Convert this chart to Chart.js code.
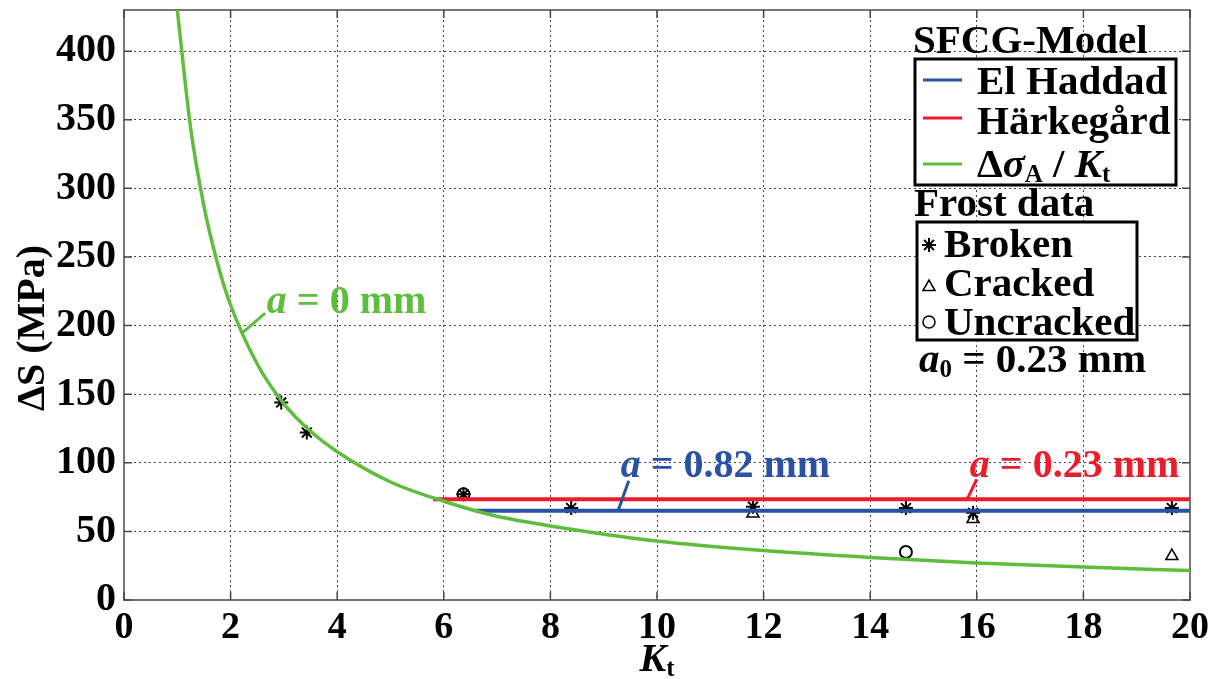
<!DOCTYPE html>
<html>
<head>
<meta charset="utf-8">
<script src="https://cdn.jsdelivr.net/npm/chart.js@4"></script>
<style>
  html, body { margin: 0; padding: 0; background: #fff; }
</style>
</head>
<body>
<canvas id="kt" width="1223" height="679"></canvas>
<script>
// values
const curveKt = [1, 1.25, 1.5, 1.75, 2, 2.5, 3, 3.5, 4, 5, 6, 7, 8, 10, 12, 14, 16, 18, 20];
const curveS = [430, 344, 287, 246, 215, 172, 143, 123, 108, 86, 72, 61, 54, 43, 36, 31, 27, 24, 21.5];
const haddadKt = [6.6, 20];
const haddadS = [65, 65];
const harkKt = [5.8, 20];
const harkS = [73.5, 73.5];
const brokenKt = [2.95, 3.43, 6.37, 8.39, 11.8, 14.67, 15.93, 19.66];
const brokenS = [144, 122, 77, 67, 68, 67, 63.5, 67];
const crackedKt = [11.8, 15.93, 19.66];
const crackedS = [63, 59, 32];
const uncrackedKt = [6.37, 14.67];
const uncrackedS = [77, 35];
const xTicks = [0, 2, 4, 6, 8, 10, 12, 14, 16, 18, 20];
const yTicks = [0, 50, 100, 150, 200, 250, 300, 350, 400];

const GREEN = '#5fbd3e';
const BLUE = '#2a51a3';
const RED = '#ee1c2b';
const SERIF = '"Liberation Serif", "Times New Roman", serif';

function pts(xs, ys) {
    return xs.map((x, i) => ({ x: x, y: ys[i] }));
}

// labels on the curves, placed in data units
const notes = [
    { text: [['a', 'i'], [' = 0 mm', '']], color: GREEN, from: [2.23, 195], to: [2.65, 209], at: [2.68, 209] },
    { text: [['a', 'i'], [' = 0.82 mm', '']], color: BLUE, from: [9.27, 65], to: [9.47, 87], at: [9.32, 89.7] },
    { text: [['a', 'i'], [' = 0.23 mm', '']], color: RED, from: [15.82, 73.5], to: [16.0, 88], at: [15.87, 89.7] }
];

// draw a row of text pieces: [text, style] where style has i (italic), s (subscript)
function richText(ctx, x, y, parts, size, color) {
    let cx = x;
    parts.forEach(p => {
        const st = p[1] || '';
        const sub = st.indexOf('s') >= 0;
        const fs = sub ? Math.round(size * 0.62) : size;
        ctx.font = (st.indexOf('i') >= 0 ? 'italic ' : '') + 'bold ' + fs + 'px ' + SERIF;
        ctx.fillStyle = color;
        ctx.fillText(p[0], cx, sub ? y + size * 0.12 : y);
        cx += ctx.measureText(p[0]).width;
    });
    return cx - x;
}

function textWidth(ctx, parts, size) {
    let w = 0;
    parts.forEach(p => {
        const st = p[1] || '';
        const fs = st.indexOf('s') >= 0 ? Math.round(size * 0.62) : size;
        ctx.font = (st.indexOf('i') >= 0 ? 'italic ' : '') + 'bold ' + fs + 'px ' + SERIF;
        w += ctx.measureText(p[0]).width;
    });
    return w;
}

const extras = {
    id: 'extras',
    beforeDatasetsDraw(chart) {
        const ctx = chart.ctx;
        const a = chart.chartArea;
        const xs = chart.scales.x;
        const ys = chart.scales.y;
        ctx.save();
        ctx.strokeStyle = '#777';
        ctx.lineWidth = 2;
        ctx.strokeRect(a.left, a.top, a.right - a.left, a.bottom - a.top);
        // inward tick marks on all four sides
        ctx.lineWidth = 1.5;
        ctx.strokeStyle = '#444';
        ctx.beginPath();
        xTicks.forEach(v => {
            const px = xs.getPixelForValue(v);
            ctx.moveTo(px, a.bottom); ctx.lineTo(px, a.bottom - 8);
            ctx.moveTo(px, a.top); ctx.lineTo(px, a.top + 8);
        });
        yTicks.forEach(v => {
            const py = ys.getPixelForValue(v);
            ctx.moveTo(a.left, py); ctx.lineTo(a.left + 8, py);
            ctx.moveTo(a.right, py); ctx.lineTo(a.right - 8, py);
        });
        ctx.stroke();
        ctx.restore();
    },
    afterDraw(chart) {
        const ctx = chart.ctx;
        const xs = chart.scales.x;
        const ys = chart.scales.y;
        ctx.save();
        ctx.textBaseline = 'alphabetic';
        ctx.textAlign = 'left';

        // curve labels
        notes.forEach(n => {
            ctx.strokeStyle = n.color;
            ctx.lineWidth = 3;
            ctx.beginPath();
            ctx.moveTo(xs.getPixelForValue(n.from[0]), ys.getPixelForValue(n.from[1]));
            ctx.lineTo(xs.getPixelForValue(n.to[0]), ys.getPixelForValue(n.to[1]));
            ctx.stroke();
            const tx = xs.getPixelForValue(n.at[0]);
            const ty = ys.getPixelForValue(n.at[1]);
            richText(ctx, tx, ty, n.text, 40, n.color);
        });

        // axis titles
        ctx.save();
        ctx.translate(31, 328);
        ctx.rotate(-Math.PI / 2);
        const yt = [['ΔS (MPa)', '']];
        richText(ctx, -textWidth(ctx, yt, 40) / 2, 13, yt, 40, '#000');
        ctx.restore();
        const xt = [['K', 'i'], ['t', 's']];
        richText(ctx, 657 - textWidth(ctx, xt, 40) / 2, 671, xt, 40, '#000');

        // legend: SFCG-Model
        richText(ctx, 913, 53, [['SFCG-Model', '']], 41, '#000');
        ctx.fillStyle = '#fff';
        ctx.fillRect(915, 59, 261, 126);
        ctx.strokeStyle = '#000';
        ctx.lineWidth = 3;
        ctx.strokeRect(915, 59, 261, 126);
        const rows = [
            { c: BLUE, y: 80, b: 94, t: [['El Haddad', '']] },
            { c: RED, y: 118, b: 134, t: [['Härkegård', '']] },
            { c: GREEN, y: 164, b: 177, t: [['Δ', ''], ['σ', 'i'], ['A', 's'], [' / ', ''], ['K', 'i'], ['t', 's']] }
        ];
        rows.forEach(r => {
            ctx.strokeStyle = r.c;
            ctx.lineWidth = 3;
            ctx.beginPath();
            ctx.moveTo(923, r.y);
            ctx.lineTo(962, r.y);
            ctx.stroke();
            richText(ctx, 977, r.b, r.t, 41, '#000');
        });

        // legend: Frost data
        richText(ctx, 914, 216, [['Frost data', '']], 41, '#000');
        ctx.fillStyle = '#fff';
        ctx.fillRect(917, 222, 220, 118);
        ctx.strokeStyle = '#000';
        ctx.lineWidth = 3;
        ctx.strokeRect(917, 222, 220, 118);
        ctx.lineWidth = 2;
        ctx.fillStyle = 'rgba(255,255,255,0)';
        Chart.helpers.drawPoint(ctx, { pointStyle: 'star', radius: 7, rotation: 0, borderWidth: 2 }, 929, 245);
        ctx.lineWidth = 1.5;
        Chart.helpers.drawPoint(ctx, { pointStyle: 'triangle', radius: 7, rotation: 0, borderWidth: 1.5 }, 929, 287);
        ctx.beginPath();
        ctx.arc(929, 322, 6, 0, Math.PI * 2);
        ctx.stroke();
        richText(ctx, 944, 257, [['Broken', '']], 41, '#000');
        richText(ctx, 944, 296, [['Cracked', '']], 41, '#000');
        richText(ctx, 944, 335, [['Uncracked', '']], 41, '#000');
        richText(ctx, 919, 372, [['a', 'i'], ['0', 's'], [' = 0.23 mm', '']], 41, '#000');
        ctx.restore();
    }
};

new Chart(document.getElementById('kt'), {
    type: 'line',
    data: {
        datasets: [
            {
                label: 'Δσ_A / K_t',
                data: pts(curveKt, curveS),
                borderColor: GREEN,
                borderWidth: 3.5,
                pointRadius: 0,
                cubicInterpolationMode: 'monotone'
            },
            {
                label: 'El Haddad',
                data: pts(haddadKt, haddadS),
                borderColor: BLUE,
                borderWidth: 4,
                pointRadius: 0
            },
            {
                label: 'Härkegård',
                data: pts(harkKt, harkS),
                borderColor: RED,
                borderWidth: 4,
                pointRadius: 0
            },
            {
                label: 'Cracked',
                data: pts(crackedKt, crackedS),
                showLine: false,
                pointStyle: 'triangle',
                pointRadius: 7,
                borderColor: '#000',
                backgroundColor: 'rgba(255,255,255,0)',
                pointBorderWidth: 1.5
            },
            {
                label: 'Uncracked',
                data: pts(uncrackedKt, uncrackedS),
                showLine: false,
                pointStyle: 'circle',
                pointRadius: 6,
                borderColor: '#000',
                backgroundColor: 'rgba(255,255,255,0)',
                pointBorderWidth: 2
            },
            {
                label: 'Broken',
                data: pts(brokenKt, brokenS),
                showLine: false,
                pointStyle: 'star',
                pointRadius: 7,
                borderColor: '#000',
                pointBorderWidth: 2
            }
        ]
    },
    options: {
        responsive: false,
        animation: false,
        devicePixelRatio: 1,
        layout: { padding: { top: 10, right: 33, left: 0, bottom: 0 } },
        plugins: {
            legend: { display: false },
            tooltip: { enabled: false }
        },
        scales: {
            x: {
                type: 'linear',
                min: 0,
                max: 20,
                afterFit: s => { s.height = 79; s.paddingLeft = 0; s.paddingRight = 0; },
                afterBuildTicks: s => { s.ticks = xTicks.map(v => ({ value: v })); },
                grid: { color: '#444', lineWidth: 1, drawTicks: false },
                border: { display: false, dash: [2, 3] },
                ticks: {
                    color: '#000',
                    padding: 5,
                    font: { family: SERIF, size: 38, weight: 'bold' }
                }
            },
            y: {
                min: 0,
                max: 430,
                afterFit: s => { s.width = 124; s.paddingTop = 0; s.paddingBottom = 0; },
                afterBuildTicks: s => { s.ticks = yTicks.map(v => ({ value: v })); },
                grid: { color: '#444', lineWidth: 1, drawTicks: false },
                border: { display: false, dash: [2, 3] },
                ticks: {
                    color: '#000',
                    padding: 8,
                    font: { family: SERIF, size: 40, weight: 'bold' }
                }
            }
        }
    },
    plugins: [extras]
});
</script>
</body>
</html>
